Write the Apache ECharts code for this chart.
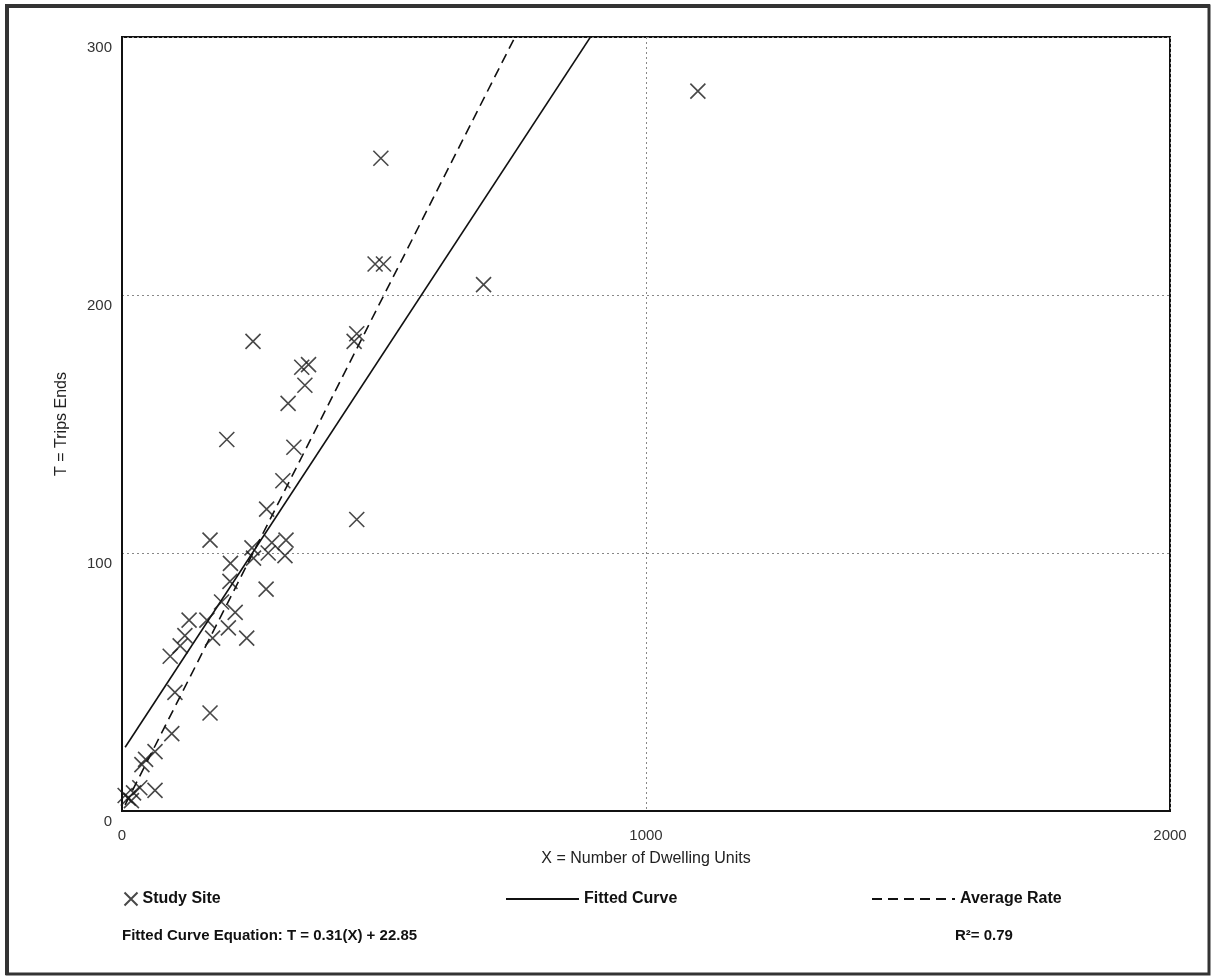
<!DOCTYPE html>
<html>
<head>
<meta charset="utf-8">
<script src="https://cdn.jsdelivr.net/npm/echarts@6/dist/echarts.min.js"></script>
<style>
html,body{margin:0;padding:0;background:#fff;}
#chart{width:1214px;height:978px;}
</style>
</head>
<body>
<div id="chart"></div>
<script>
// Data
const dwellingUnits = [1099, 494, 690, 483, 499, 250, 448, 443, 343, 356, 349, 317, 200, 328, 307, 276, 448, 168, 313, 286, 248, 279, 311, 251, 207, 275, 206, 190, 216, 162, 128, 203, 120, 173, 238, 111, 92, 101, 168, 95, 63, 45, 38, 63, 34, 22, 12, 6, 18];
const tripEnds     = [279, 253, 204, 212, 212, 182, 185, 182, 172, 173, 165, 158, 144, 141, 128, 117, 113, 105, 105, 104, 102, 100, 99, 98, 96, 86, 89, 81, 77, 74, 74, 71, 68, 67, 67, 64, 60, 46, 38, 30, 23, 20, 18, 8, 9, 7, 5, 6, 4];
const fittedSlope = 0.31;
const fittedIntercept = 22.85;
const averageRate = 0.40;
const rSquared = 0.79;
const xTicks = [0, 1000, 2000];
const yTicks = [0, 100, 200, 300];
const seriesNames = ['Study Site', 'Fitted Curve', 'Average Rate'];

const FONT = 'Arial, "Liberation Sans", sans-serif';
const points = dwellingUnits.map((x, i) => [x, tripEnds[i]]);
const xMin = Math.min(...dwellingUnits);
const xEnd = 1000;
const fittedLine = [[xMin, fittedSlope * xMin + fittedIntercept], [xEnd, fittedSlope * xEnd + fittedIntercept]];
const avgLine = [[xMin, averageRate * xMin], [xEnd, averageRate * xEnd]];

const chart = echarts.init(document.getElementById('chart'), null, {renderer: 'canvas'});
const legendText = {fontFamily: FONT, fontSize: 16, fontWeight: 'bold', color: '#111'};
chart.setOption({
  backgroundColor: '#fff',
  animation: false,
  grid: {left: 122, top: 37, right: 44, bottom: 167, show: true, borderColor: '#111', borderWidth: 2, backgroundColor: 'transparent'},
  xAxis: {
    type: 'value', min: xTicks[0], max: xTicks[xTicks.length - 1], interval: 1000,
    name: 'X = Number of Dwelling Units', nameLocation: 'middle', nameGap: 40,
    nameTextStyle: {fontFamily: FONT, fontSize: 16, color: '#222'},
    axisLine: {show: true, lineStyle: {color: '#111', width: 2}},
    axisTick: {show: false},
    axisLabel: {fontFamily: FONT, fontSize: 15, color: '#333', margin: 17, formatter: v => String(v)},
    splitLine: {show: true, lineStyle: {color: '#888', type: [2, 3], width: 1}}
  },
  yAxis: {
    type: 'value', min: yTicks[0], max: yTicks[yTicks.length - 1], interval: 100,
    name: 'T = Trips Ends', nameLocation: 'middle', nameGap: 52, nameRotate: 90,
    nameTextStyle: {fontFamily: FONT, fontSize: 16, color: '#222'},
    axisLine: {show: true, lineStyle: {color: '#111', width: 2}},
    axisTick: {show: false},
    axisLabel: {fontFamily: FONT, fontSize: 15, color: '#333', margin: 10, verticalAlign: 'top', padding: [3, 0, 0, 0], formatter: v => String(v)},
    splitLine: {show: true, lineStyle: {color: '#888', type: [2, 3], width: 1}}
  },
  legend: [
    {data: [seriesNames[0]], left: 117, top: 885, itemWidth: 13, itemHeight: 13, itemGap: 17, textStyle: legendText},
    {data: [{name: seriesNames[1], itemStyle: {opacity: 0}}], left: 500, top: 886, itemWidth: 73, itemHeight: 16, itemGap: 6, textStyle: legendText},
    {data: [{name: seriesNames[2], itemStyle: {opacity: 0}}], left: 866, top: 886, itemWidth: 83, itemHeight: 16, itemGap: 11, textStyle: legendText}
  ],
  graphic: [
    {type: 'rect', shape: {x: 7, y: 6, width: 1202, height: 968}, style: {fill: 'none', stroke: '#333', lineWidth: 3}, silent: true},
    {type: 'line', shape: {x1: 7, y1: 5, x2: 7, y2: 975}, style: {stroke: '#333', lineWidth: 4}, silent: true},
    {type: 'line', shape: {x1: 5, y1: 6, x2: 1210, y2: 6}, style: {stroke: '#333', lineWidth: 4}, silent: true},
    {type: 'text', left: 122, top: 928, style: {text: 'Fitted Curve Equation: T = ' + fittedSlope + '(X) + ' + fittedIntercept, font: 'bold 15px ' + FONT, fill: '#111'}},
    {type: 'text', left: 955, top: 928, style: {text: 'R²= ' + rSquared, font: 'bold 15px ' + FONT, fill: '#111'}}
  ],
  series: [
    {
      name: seriesNames[0], type: 'scatter', data: points,
      symbol: 'path://M0,0L10,10M10,0L0,10', symbolSize: 15,
      itemStyle: {color: 'none', borderColor: '#1a1a1a', borderWidth: 1.6},
      z: 5
    },
    {
      name: seriesNames[1], type: 'line', data: fittedLine, showSymbol: false, symbol: 'none',
      lineStyle: {color: '#111', width: 1.6}, itemStyle: {color: '#111'}, clip: true
    },
    {
      name: seriesNames[2], type: 'line', data: avgLine, showSymbol: false, symbol: 'none',
      lineStyle: {color: '#111', width: 1.6, type: [10, 6]}, itemStyle: {color: '#111'}, clip: true
    }
  ]
});
</script>
</body>
</html>
